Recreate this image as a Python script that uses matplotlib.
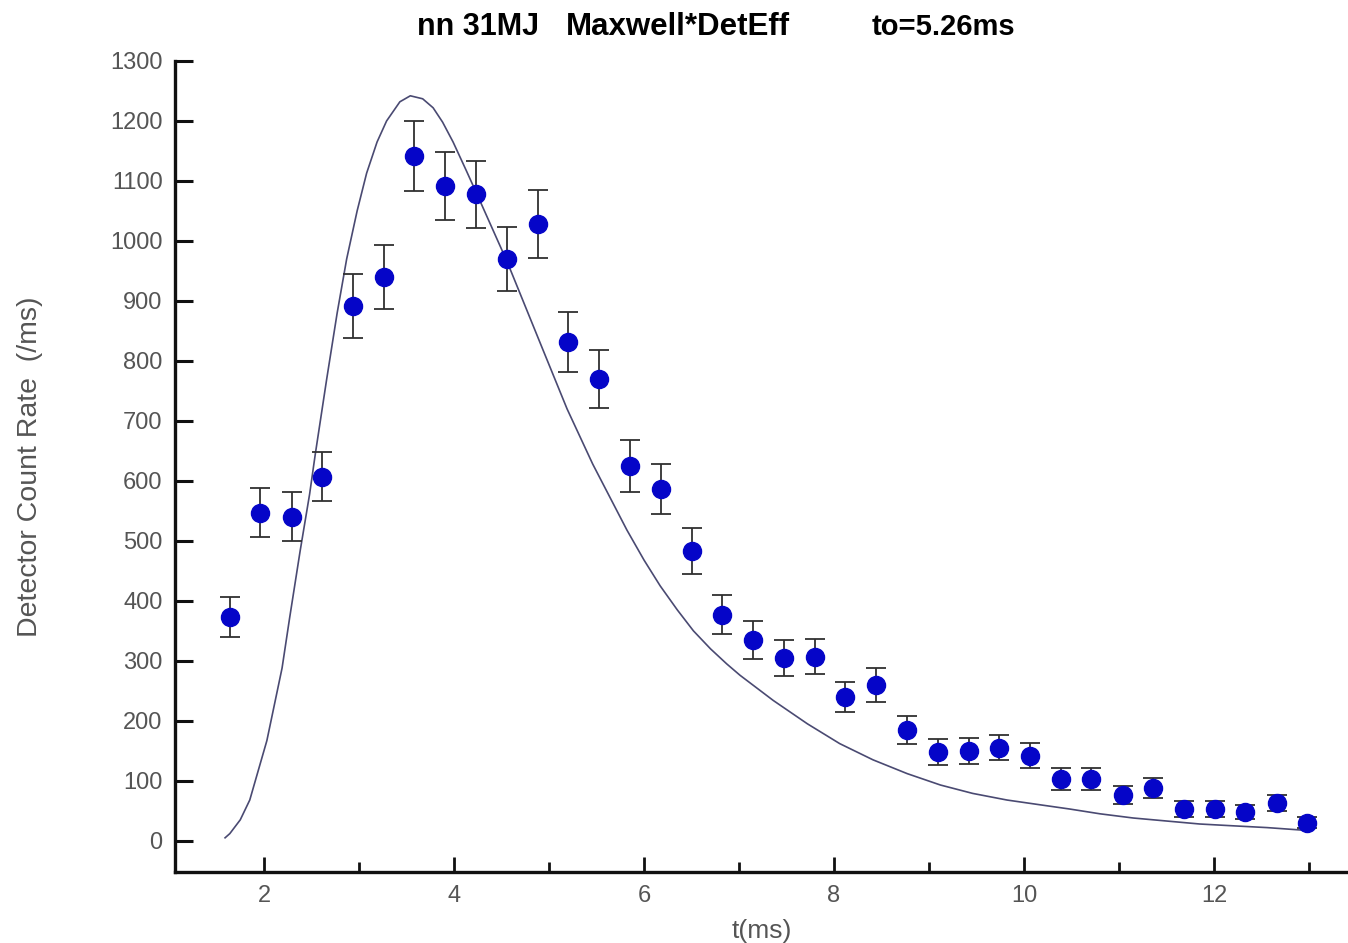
"""Neutron time-of-flight spectrum with Maxwell*DetEff fit curve."""
import matplotlib
matplotlib.use("Agg")
import matplotlib.pyplot as plt

plt.rcParams["font.family"] = ["Liberation Sans", "DejaVu Sans"]

# measured count rate per time bin
t_ms = [1.64, 1.96, 2.29, 2.61, 2.94, 3.26, 3.58, 3.91, 4.23, 4.56, 4.88, 5.20,
        5.53, 5.85, 6.18, 6.50, 6.82, 7.15, 7.47, 7.80, 8.12, 8.44, 8.77, 9.09,
        9.42, 9.74, 10.06, 10.39, 10.71, 11.04, 11.36, 11.68, 12.01, 12.33, 12.66, 12.98]
rate = [373, 547, 540, 607, 892, 940, 1142, 1092, 1078, 970, 1028, 832,
        770, 625, 587, 483, 377, 335, 305, 307, 240, 260, 185, 148,
        150, 155, 142, 103, 103, 77, 88, 53, 53, 48, 63, 30]
rate_err = [34, 41, 41, 41, 53, 53, 58, 57, 56, 54, 57, 50,
            48, 43, 42, 39, 33, 32, 30, 29, 25, 28, 23, 22,
            22, 21, 21, 18, 18, 15, 16, 13, 13, 12, 14, 9]

# fitted curve
curve_t = [1.59, 1.64, 1.75, 1.85, 2.03, 2.19, 2.27, 2.38, 2.48, 2.54, 2.66, 2.77,
           2.87, 2.98, 3.08, 3.19, 3.29, 3.43, 3.54, 3.67, 3.78, 3.88, 3.99, 4.13,
           4.25, 4.56, 4.94, 5.19, 5.46, 5.82, 6.00, 6.17, 6.35, 6.52, 6.70, 6.87,
           7.01, 7.36, 7.72, 8.06, 8.41, 8.77, 9.12, 9.46, 9.82, 10.17, 10.48,
           10.80, 11.15, 11.50, 11.85, 12.20, 12.56, 13.00]
curve_v = [5, 12, 35, 68, 167, 288, 372, 483, 578, 645, 770, 880,
           970, 1050, 1113, 1165, 1200, 1232, 1242, 1237, 1222, 1198, 1165, 1117,
           1075, 965, 817, 720, 628, 518, 468, 425, 385, 350, 320, 295,
           276, 234, 195, 162, 135, 112, 93, 79, 68, 60, 53,
           45, 38, 33, 28, 25, 22, 17]

x_major = [2, 4, 6, 8, 10, 12]
x_minor = [3, 5, 7, 9, 11, 13]
y_ticks = list(range(0, 1301, 100))

W, H = 1348, 943
fig = plt.figure(figsize=(W / 100, H / 100), dpi=100)
fig.patch.set_facecolor("white")
ax = fig.add_axes([175 / W, (H - 872) / H, 1 - 175 / W, (872 - 61) / H])

ax.plot(curve_t, curve_v, color="#4a4a72", lw=1.2, zorder=2)
ax.errorbar(t_ms, rate, yerr=rate_err, fmt="none", ecolor="#303030",
            elinewidth=1.3, capsize=7, capthick=1.3, zorder=3)
ax.plot(t_ms, rate, "o", color="#0505c8", ms=13, mec="#0505c8", zorder=4)

ax.set_xlim(1.063, 13.41)
ax.set_ylim(-52, 1300)

for s in ("top", "right"):
    ax.spines[s].set_visible(False)
for s in ("left", "bottom"):
    ax.spines[s].set_linewidth(2.4)
    ax.spines[s].set_color("#111111")

ax.set_xticks(x_major)
ax.set_xticks(x_minor, minor=True)
ax.set_yticks(y_ticks)
ax.tick_params(axis="y", direction="in", length=13, width=2.2, pad=9,
               labelsize=17, labelcolor="#555555", color="#111111")
ax.tick_params(axis="x", which="major", direction="in", length=11, width=2.0,
               pad=9, labelsize=17, labelcolor="#555555", color="#111111")
ax.tick_params(axis="x", which="minor", direction="in", length=7, width=2.0,
               color="#111111")

ax.set_xlabel("t(ms)", fontsize=19, color="#555555", labelpad=9)
fig.text(30 / W, 1 - 467 / H, "Detector Count Rate  (/ms)", rotation=90,
         ha="center", va="center", fontsize=20.5, color="#555555")

title_y = 1 - 27 / H
fig.text(417 / W, title_y, "nn 31MJ", ha="left", va="center",
         fontsize=22, fontweight="bold", color="black")
fig.text(566 / W, title_y, "Maxwell*DetEff", ha="left", va="center",
         fontsize=22.5, fontweight="bold", color="black")
fig.text(872 / W, title_y, "to=5.26ms", ha="left", va="center",
         fontsize=21, fontweight="bold", color="black")

fig.savefig("out.png", dpi=100)
plt.close(fig)
